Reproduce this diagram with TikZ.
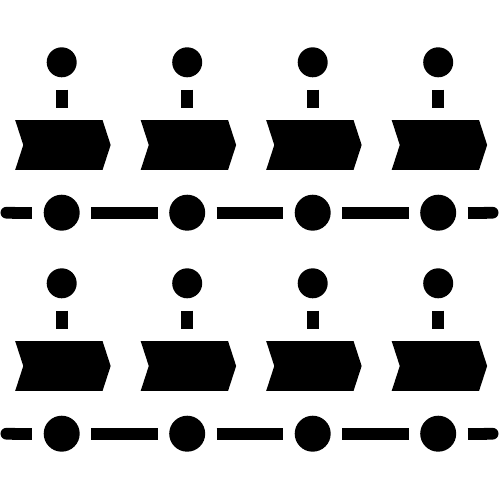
\documentclass[tikz,border=0pt]{standalone}
\usetikzlibrary{shapes.symbols,arrows.meta}

\tikzset{
  pinhead/.style={circle,fill,inner sep=0pt,minimum size=0.6cm},
  tdot/.style={circle,fill,inner sep=0pt,minimum size=0.72cm},
  chev/.style={signal,signal from=west,signal to=east,signal pointer angle=144,
    fill,inner sep=0pt,minimum width=1.91cm,minimum height=1cm},
  stemline/.style={line width=0.24cm,shorten <=0.24cm,shorten >=0.24cm},
  segline/.style={line width=0.235cm,shorten <=0.22cm,shorten >=0.22cm}
}

\begin{document}
\begin{tikzpicture}[x=0.02cm,y=-0.02cm]
    \useasboundingbox (0,0) rectangle (500,500);

    \foreach \r in {0,1}{
        % pins, steps and timeline dots
        \foreach \c in {0,...,3}{
            \node[pinhead] (p\r\c) at ({61.7+125.5*\c},{62.3+221*\r}) {};
            \node[chev] (s\r\c) at ({62.9+125.5*\c},{145+221*\r}) {};
            \node[tdot] (t\r\c) at ({61.7+125.5*\c},{212.7+221*\r}) {};
            \draw[stemline] (p\r\c.south) -- (p\r\c.south |- s\r\c.north);
        }
        % timeline
        \foreach \a/\b in {0/1,1/2,2/3}
            \draw[segline] (t\r\a) -- (t\r\b);
        \coordinate (l\r) at (0.5,{212.7+221*\r});
        \coordinate (e\r) at (498.5,{212.7+221*\r});
        \draw[line width=0.235cm,{Round Cap[]}-,shorten >=0.22cm] (l\r) -- (t\r0);
        \draw[line width=0.235cm,-{Round Cap[]},shorten <=0.22cm] (t\r3) -- (e\r);
    }
\end{tikzpicture}
\end{document}
